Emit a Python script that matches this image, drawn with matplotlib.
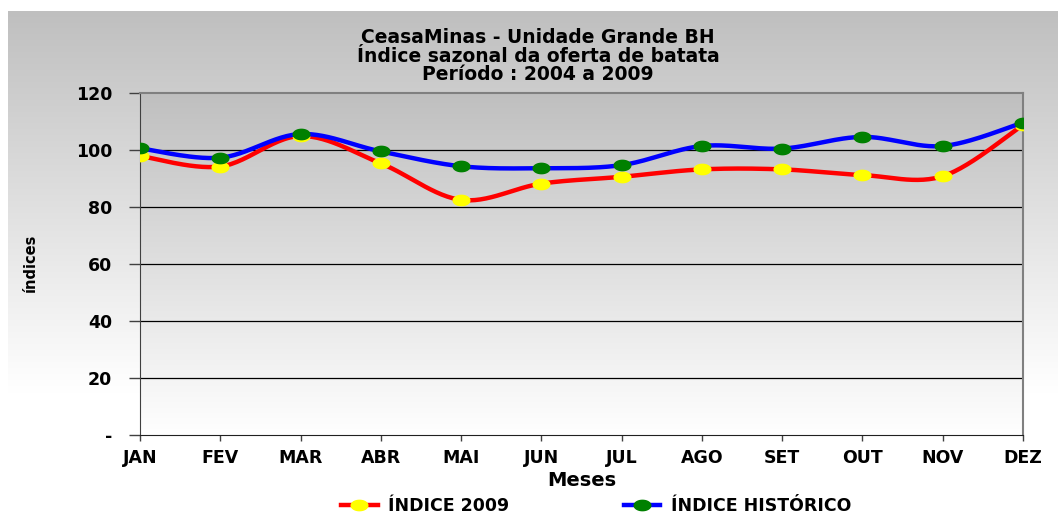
import numpy as np
import matplotlib.pyplot as plt
from matplotlib.path import Path

meses = ['JAN', 'FEV', 'MAR', 'ABR', 'MAI', 'JUN', 'JUL', 'AGO', 'SET', 'OUT', 'NOV', 'DEZ']
indice_2009 = [97.9, 94.2, 104.9, 95.3, 82.5, 88.2, 90.6, 93.2, 93.2, 91.2, 90.8, 108.8]
indice_hist = [100.6, 97.3, 105.6, 99.5, 94.3, 93.6, 94.7, 101.4, 100.5, 104.6, 101.4, 109.6]
yticks = [0, 20, 40, 60, 80, 100, 120]
ytick_labels = ['-', '20', '40', '60', '80', '100', '120']

plt.rcParams['font.family'] = ['DejaVu Sans']


def smooth(y, n=30):
    # Excel style smoothed line (Catmull-Rom through the points)
    y = np.asarray(y, float)
    x = np.arange(len(y), dtype=float)
    px = np.concatenate([[x[0]], x, [x[-1]]])
    py = np.concatenate([[y[0]], y, [y[-1]]])
    xs, ys = [], []
    for i in range(1, len(px) - 2):
        p0, p1, p2, p3 = [np.array([px[j], py[j]]) for j in (i - 1, i, i + 1, i + 2)]
        c1 = p1 + (p2 - p0) / 6
        c2 = p2 - (p3 - p1) / 6
        t = np.linspace(0, 1, n)[:, None]
        b = (1 - t) ** 3 * p1 + 3 * (1 - t) ** 2 * t * c1 + 3 * (1 - t) * t ** 2 * c2 + t ** 3 * p2
        xs.extend(b[:, 0]); ys.extend(b[:, 1])
    return np.array(xs), np.array(ys)


# flattened ellipse marker
th = np.linspace(0, 2 * np.pi, 60)
ellipse = Path(np.column_stack([np.cos(th), 0.62 * np.sin(th)]))

fig = plt.figure(figsize=(10.58, 5.14), dpi=100)
fig.patch.set_facecolor('white')

# chart area background gradient
W, H = 1058, 514
bg = fig.add_axes([8 / W, 0, 1 - 8 / W, 1 - 11 / H], zorder=-10)
grad = np.clip(np.linspace(0.75, 1.08, 256), 0, 1)[:, None]
bg.imshow(np.dstack([grad] * 3), aspect='auto', extent=[0, 1, 0, 1])
bg.axis('off')

ax = fig.add_axes([140 / W, 79 / H, 883 / W, 342 / H])
pgrad = np.linspace(0.75, 1.0, 256)[:, None]
ax.imshow(np.dstack([pgrad] * 3), aspect='auto', extent=[0, 11, 0, 120], zorder=0)

xs, ys = smooth(indice_2009)
ax.plot(xs, ys, color='#ff0000', lw=3.2, zorder=3, solid_capstyle='round')
ax.plot(range(12), indice_2009, ls='none', marker=ellipse, ms=12, color='#ffff00', zorder=4)
xs, ys = smooth(indice_hist)
ax.plot(xs, ys, color='#0000ff', lw=3.2, zorder=5, solid_capstyle='round')
ax.plot(range(12), indice_hist, ls='none', marker=ellipse, ms=12, color='#008000', zorder=6)

ax.set_xlim(0, 11)
ax.set_ylim(0, 120)
ax.set_yticks(yticks)
ax.set_yticklabels(ytick_labels, fontsize=12.5, fontweight='bold')
ax.set_xticks(range(12))
ax.set_xticklabels(meses, fontsize=12.5, fontweight='bold')
ax.tick_params(axis='y', length=8, width=1, color='#404040', pad=12)
ax.tick_params(axis='x', length=4, width=1, color='#404040', pad=6)
for y in yticks[1:-1]:
    ax.axhline(y, color='black', lw=0.9, zorder=1)
for s in ('top', 'right'):
    ax.spines[s].set_color('#808080')
    ax.spines[s].set_linewidth(1.5)
ax.spines['left'].set_color('#404040')
ax.spines['bottom'].set_color('#202020')

ax.set_xlabel('Meses', fontsize=14, fontweight='bold', labelpad=3)
fig.text(30 / W, 1 - 263 / H, 'índices', rotation=90, fontsize=10.5, fontweight='bold',
         ha='center', va='center', family=['Liberation Sans Narrow', 'DejaVu Sans'])

fig.text(538 / W, 1 - 56 / H,
         'CeasaMinas - Unidade Grande BH\nÍndice sazonal da oferta de batata\nPeríodo : 2004 a 2009',
         ha='center', va='center', fontsize=13.5, fontweight='bold', linespacing=0.98)

h1, = ax.plot([], [], color='#ff0000', lw=3.2, marker=ellipse, ms=12,
              markerfacecolor='#ffff00', markeredgecolor='#ffff00')
h2, = ax.plot([], [], color='#0000ff', lw=3.2, marker=ellipse, ms=12,
              markerfacecolor='#008000', markeredgecolor='#008000')
leg = fig.legend([h1, h2], ['ÍNDICE 2009', 'ÍNDICE HISTÓRICO'], ncol=2, loc='center',
                 bbox_to_anchor=(596 / W, 1 - 506 / H), frameon=False,
                 prop={'weight': 'bold', 'size': 12.5}, handlelength=2.1,
                 handletextpad=0.6, columnspacing=6.6)

fig.savefig('out.png', dpi=100)
